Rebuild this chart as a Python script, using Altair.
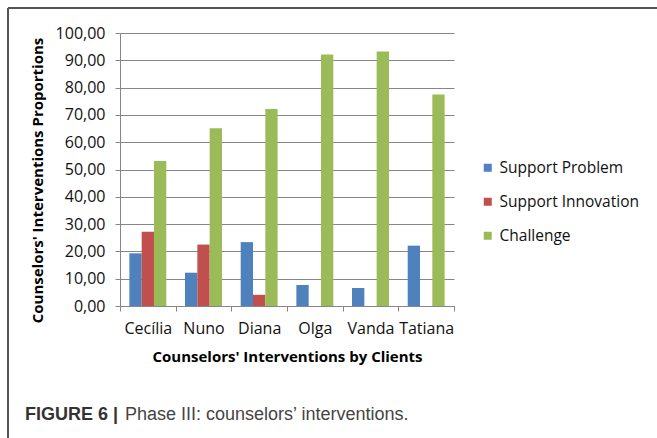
import altair as alt
import pandas as pd

# Proportions of counselors' interventions per client (Phase III)
clients = ["Cecília", "Nuno", "Diana", "Olga", "Vanda", "Tatiana"]
support_problem = [19.3, 12.2, 23.4, 7.7, 6.6, 22.1]
support_innovation = [27.2, 22.5, 4.1, 0.0, 0.0, 0.0]
challenge = [53.1, 65.1, 72.2, 92.1, 93.2, 77.5]

series_names = ["Support Problem", "Support Innovation", "Challenge"]
series_colors = ["#4F81BD", "#C0504D", "#9BBB59"]

rows = []
for name, values in zip(series_names, [support_problem, support_innovation, challenge]):
    for client, v in zip(clients, values):
        rows.append({"client": client, "series": name, "value": v})
df = pd.DataFrame(rows)

FONT = "Open Sans"
W, H = 334, 273

bars = alt.Chart(df).mark_bar().encode(
    x=alt.X(
        "client:N",
        sort=clients,
        scale=alt.Scale(paddingInner=0, paddingOuter=0),
        axis=alt.Axis(
            title="Counselors' Interventions by Clients",
            labelAngle=0,
            tickBand="extent",
            tickSize=5,
            tickColor="#868686",
            domainColor="#868686",
            labelFont=FONT,
            labelFontSize=16,
            labelColor="#111111",
            labelPadding=9,
            titleFont=FONT,
            titleFontSize=15,
            titleFontWeight="bold",
            titleColor="#000000",
            titlePadding=13,
            grid=False,
        ),
    ),
    xOffset=alt.XOffset(
        "series:N",
        sort=series_names,
        scale=alt.Scale(paddingInner=0, paddingOuter=0.76),
    ),
    y=alt.Y(
        "value:Q",
        scale=alt.Scale(domain=[0, 100], nice=False),
        axis=alt.Axis(
            title="Counselors' Interventions Proportions",
            values=list(range(0, 101, 10)),
            labelExpr="replace(format(datum.value, '.2f'), '.', ',')",
            tickSize=5,
            tickColor="#868686",
            domainColor="#868686",
            gridColor="#868686",
            gridWidth=1,
            labelFont=FONT,
            labelFontSize=16,
            labelColor="#111111",
            labelPadding=10,
            titleFont=FONT,
            titleFontSize=15,
            titleFontWeight="bold",
            titleColor="#000000",
            titlePadding=10,
            titleY=147,
        ),
    ),
    color=alt.Color(
        "series:N",
        sort=series_names,
        scale=alt.Scale(domain=series_names, range=series_colors),
        legend=alt.Legend(
            title=None,
            orient="none",
            legendX=360,
            legendY=127,
            symbolType="square",
            symbolSize=64,
            symbolStrokeWidth=0,
            labelFont=FONT,
            labelFontSize=15.5,
            labelColor="#111111",
            labelOffset=4,
            rowPadding=17,
        ),
    ),
)

one = pd.DataFrame({"k": [0]})

# Figure frame: top and left border lines
frame_top = alt.Chart(one).mark_rule(color="#555555", strokeWidth=2).encode(
    x=alt.value(-112), x2=alt.value(537), y=alt.value(-25)
)
frame_left = alt.Chart(one).mark_rule(color="#555555", strokeWidth=2).encode(
    x=alt.value(-112), y=alt.value(-25), y2=alt.value(405)
)

caption_bold = alt.Chart(one).mark_text(
    text="FIGURE 6 |", font="Liberation Sans", fontSize=18, fontWeight="bold",
    align="left", baseline="middle", color="#333333",
).encode(x=alt.value(-95), y=alt.value(382))

caption_text = alt.Chart(one).mark_text(
    text="Phase III: counselors\u2019 interventions.", font="Liberation Sans", fontSize=18,
    align="left", baseline="middle", color="#444444",
).encode(x=alt.value(5), y=alt.value(382))

chart = alt.layer(bars, frame_top, frame_left, caption_bold, caption_text).properties(
    width=W,
    height=H,
    autosize=alt.AutoSizeParams(type="none"),
    padding={"left": 120, "top": 33, "right": 203, "bottom": 132},
    background="white",
).configure_view(strokeWidth=0)

chart.save("out.html", embed_options={"renderer": "svg", "actions": False})
